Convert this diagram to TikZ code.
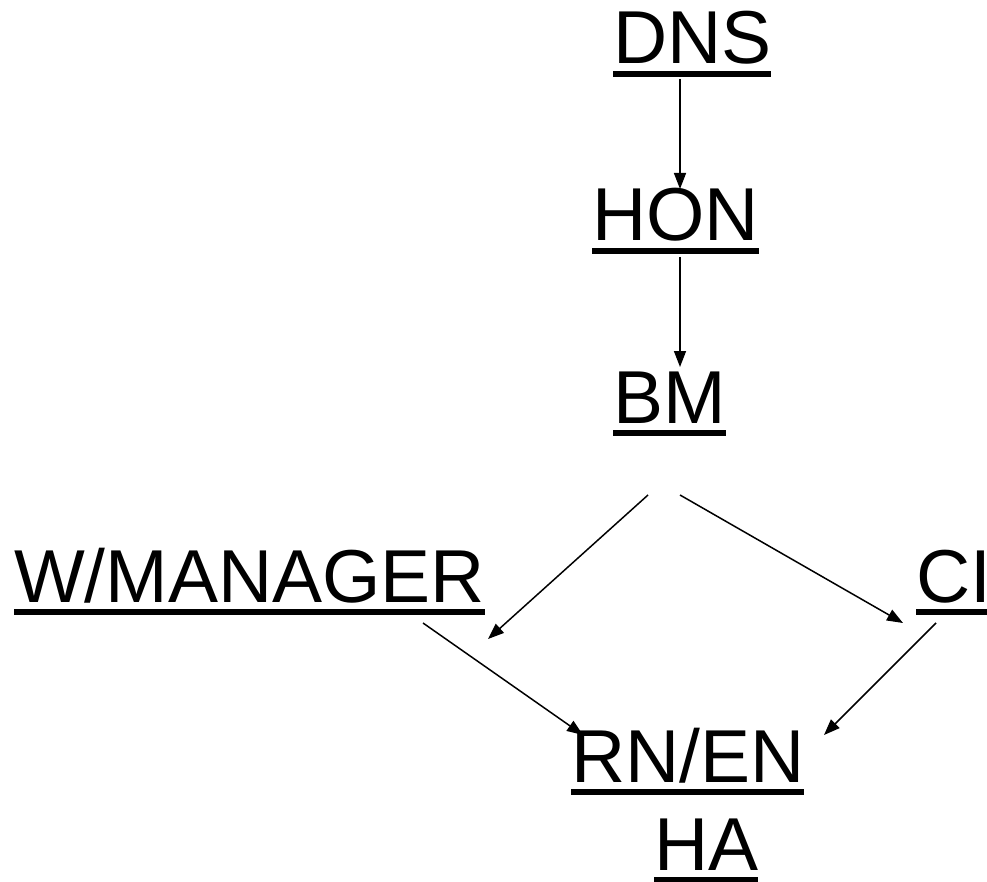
\documentclass[tikz,border=0pt]{standalone}
\usepackage{fontspec}
\setmainfont{Liberation Sans}
\usetikzlibrary{arrows.meta}
\newcommand\ulbox[1]{\setbox0=\hbox{#1}\rlap{\rule[-13pt]{\wd0}{6pt}}\box0}
\tikzset{
  lbl/.style={anchor=base west, inner sep=0pt, outer sep=0pt, font=\fontsize{75}{90}\selectfont},
  conn/.style={line width=1.5pt, -{Triangle[length=16pt,width=12pt]}}
}
\begin{document}
\begin{tikzpicture}[x=1pt,y=-1pt]
\useasboundingbox (0,0) rectangle (987,882);
\node[lbl] (dns) at (613,64) {\ulbox{DNS}};
\node[lbl] (hon) at (592,241) {\ulbox{HON}};
\node[lbl] (bm) at (613,423) {\ulbox{BM}};
\node[lbl] (wm) at (14,602) {\ulbox{W/MANAGER}};
\node[lbl] (ci) at (916,602) {\ulbox{CI}};
\node[lbl] (rn) at (571,782) {\ulbox{RN/EN}};
\node[lbl] (ha) at (654,870) {\ulbox{HA}};
\coordinate (dnsout) at (680,79);
\coordinate (honin) at (680,189);
\coordinate (honout) at (680,257);
\coordinate (bmin) at (680,367);
\coordinate (bmoutl) at (648,495);
\coordinate (bmoutr) at (680,495);
\coordinate (wmin) at (488,639);
\coordinate (ciin) at (903,623);
\coordinate (wmout) at (423,623);
\coordinate (ciout) at (936,623);
\coordinate (rninl) at (583,735);
\coordinate (rninr) at (824,735);
\draw[conn] (dnsout) -- (honin);
\draw[conn] (honout) -- (bmin);
\draw[conn] (bmoutl) -- (wmin);
\draw[conn] (bmoutr) -- (ciin);
\draw[conn] (wmout) -- (rninl);
\draw[conn] (ciout) -- (rninr);
\end{tikzpicture}
\end{document}
